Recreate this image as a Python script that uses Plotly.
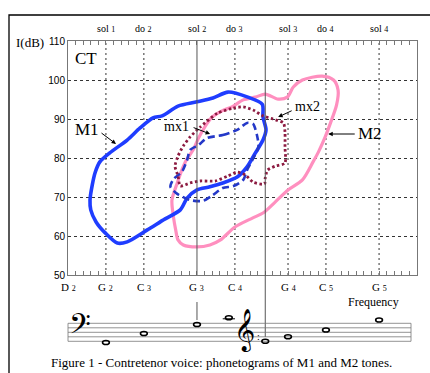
import plotly.graph_objects as go

# ---------------- data ----------------
NOTE_OFFS = {"C": 0, "D": 2, "E": 4, "F": 5, "G": 7, "A": 9, "B": 11}


def midi(n):
    return 12 * (int(n[1:]) + 1) + NOTE_OFFS[n[0]]


x_limits = ["D2", "C6"]
y_limits = [50, 110]
bottom_notes = ["D2", "G2", "C3", "G3", "C4", "G4", "C5", "G5"]
top_notes = ["G2", "C3", "G3", "C4", "G4", "C5", "G5"]
top_names = [("sol", "1"), ("do", "2"), ("sol", "2"), ("do", "3"), ("sol", "3"), ("do", "4"), ("sol", "4")]
dotted_grid_notes = ["G2", "C3", "C4", "G4", "C5", "G5"]
solid_line_notes = ["G3", "E4"]

# contours: x in semitones (MIDI number), y in dB
M1_x = [44.5, 42.9, 41.7, 41.0, 40.9, 41.2, 41.6, 42.2, 43.5, 45.8, 47.5, 49.2, 50.4, 52.5, 55.0, 57.1,
        59.1, 61.7, 63.6, 63.7, 64.1, 63.7, 62.7, 61.6, 60.3, 58.4, 56.7, 55.0, 53.7, 52.8, 50.8, 48.4, 45.8]
M1_y = [58.2, 60.8, 63.6, 66.7, 69.2, 73.1, 76.4, 79.0, 81.3, 84.6, 87.7, 90.3, 90.8, 93.3, 94.4, 95.4,
        96.9, 95.6, 93.8, 90.5, 87.2, 84.6, 81.3, 77.7, 75.1, 73.6, 72.6, 71.8, 69.7, 66.7, 64.4, 61.5, 58.5]

M2_x = [62.7, 64.0, 65.7, 66.9, 67.7, 68.9, 71.5, 73.0, 73.6, 73.4, 72.6, 71.9, 71.0, 70.3, 68.9, 67.0,
        65.3, 63.7, 62.3, 60.0, 58.1, 56.7, 55.0, 53.2, 52.5, 52.2, 51.9, 51.7, 52.4, 53.0, 53.6, 54.5,
        55.2, 56.1, 57.0, 58.3, 59.6, 61.1]
M2_y = [95.6, 96.4, 95.1, 95.6, 98.2, 100.0, 101.0, 100.0, 97.4, 93.6, 89.0, 85.4, 81.5, 79.0, 74.4, 71.8,
        68.7, 65.9, 64.6, 62.3, 59.0, 57.7, 57.2, 57.7, 59.0, 61.5, 64.9, 69.2, 73.6, 76.9, 79.5, 82.1,
        85.1, 88.2, 90.5, 92.1, 93.1, 94.9]

mx1_x = [56.3, 58.4, 60.3, 61.6, 62.4, 62.9, 63.1, 62.3, 61.6, 61.1, 59.8, 58.4, 57.1, 55.8, 54.1, 52.4,
         51.5, 51.9, 53.0, 53.7, 54.1, 55.2]
mx1_y = [85.1, 85.9, 87.2, 89.0, 88.7, 85.9, 82.8, 79.5, 76.9, 74.4, 72.8, 72.3, 70.5, 69.0, 69.2, 70.8,
         72.6, 74.6, 76.4, 79.5, 82.1, 83.3]

mx2_x = [57.7, 59.8, 61.1, 62.4, 63.7, 65.0, 66.4, 66.6, 66.6, 66.6, 65.3, 64.3, 64.0, 63.9, 62.4, 61.4,
         60.3, 59.1, 57.4, 55.4, 54.1, 52.8, 52.5, 52.1, 52.5, 53.2, 54.1, 55.4]
mx2_y = [91.5, 92.8, 93.1, 92.3, 90.8, 90.0, 89.0, 86.7, 82.8, 78.7, 77.9, 76.9, 74.9, 73.3, 73.8, 75.6,
         76.4, 75.4, 74.1, 74.1, 73.6, 72.8, 75.4, 77.9, 80.5, 83.1, 85.4, 87.9]

staff_notes = ["G2", "C3", "G3", "C4", "E4", "G4", "C5", "G5"]
staff_steps = [-0.5, 3.5, 7.5, 10.5, 0, 2, 5, 9.5]  # half-spaces above bottom staff line
staff_shift = [0, 0, 0, -0.8, 0, 0, 0, 0]

caption = "Figure 1 - Contretenor voice: phonetograms of M1 and M2 tones."

# ---------------- geometry helpers (pixels -> paper) ----------------
W, H = 430, 373
L, R, T, B = 68, 13, 41, 98
PW, PH = W - L - R, H - T - B


def py(p):  # pixel y -> paper y
    return (H - B - p) / PH


def px(p):  # pixel x -> paper x
    return (p - L) / PW


SERIF = "Liberation Serif, Times New Roman, serif"
SANS = "Liberation Sans, Arial, sans-serif"

fig = go.Figure()


def closed(xs, ys):
    return xs + xs[:1], ys + ys[:1]


x, y = closed(M2_x, M2_y)
fig.add_trace(go.Scatter(x=x, y=y, mode="lines", line=dict(color="#ff8fbf", width=3.2, shape="spline", smoothing=0.8),
                         hoverinfo="skip", showlegend=False))
x, y = closed(M1_x, M1_y)
fig.add_trace(go.Scatter(x=x, y=y, mode="lines", line=dict(color="#1f3dff", width=3.6, shape="spline", smoothing=0.8),
                         hoverinfo="skip", showlegend=False))
x, y = closed(mx1_x, mx1_y)
fig.add_trace(go.Scatter(x=x, y=y, mode="lines",
                         line=dict(color="#2438c8", width=2.6, dash="7px,4px", shape="spline", smoothing=0.7),
                         hoverinfo="skip", showlegend=False))
x, y = closed(mx2_x, mx2_y)
fig.add_trace(go.Scatter(x=x, y=y, mode="lines",
                         line=dict(color="#8c1a40", width=2.8, dash="2.5px,2.5px", shape="spline", smoothing=0.6),
                         hoverinfo="skip", showlegend=False))

shapes = []
# dotted vertical grid lines
for n in dotted_grid_notes:
    shapes.append(dict(type="line", xref="x", yref="paper", x0=midi(n), x1=midi(n), y0=0, y1=1,
                       line=dict(color="#333", width=1, dash="2px,3px"), layer="below"))
# solid vertical lines (G3, E4), extended down to the staff
g3, e4 = [midi(n) for n in solid_line_notes]
shapes.append(dict(type="line", xref="x", yref="paper", x0=g3, x1=g3, y0=0, y1=1, line=dict(color="#555", width=1)))
shapes.append(dict(type="line", xref="x", yref="paper", x0=g3, x1=g3, y0=py(302), y1=py(320),
                   line=dict(color="#555", width=1)))
shapes.append(dict(type="line", xref="x", yref="paper", x0=e4, x1=e4, y0=py(337), y1=1,
                   line=dict(color="#555", width=1)))

# staff
step = 2.25
bottom_line = 341.3
for i in range(5):
    yy = py(bottom_line - 2 * step * i)
    shapes.append(dict(type="line", xref="paper", yref="paper", x0=0, x1=px(411), y0=yy, y1=yy,
                       line=dict(color="#777", width=0.8)))
for xx in (0, px(411)):
    shapes.append(dict(type="line", xref="paper", yref="paper", x0=xx, x1=xx, y0=py(bottom_line),
                       y1=py(bottom_line - 8 * step), line=dict(color="#777", width=0.8)))
semi_px = PW / (midi(x_limits[1]) - midi(x_limits[0]))
for n, s, sh in zip(staff_notes, staff_steps, staff_shift):
    cx = midi(n) + sh
    cy = bottom_line - s * step
    hw = 3.4 / semi_px
    shapes.append(dict(type="circle", xref="x", yref="paper", x0=cx - hw, x1=cx + hw,
                       y0=py(cy + 2.0), y1=py(cy - 2.0), line=dict(color="black", width=1.6)))
    if s >= 10:
        shapes.append(dict(type="line", xref="x", yref="paper", x0=cx - 1.8 * hw, x1=cx + 1.8 * hw,
                           y0=py(bottom_line - 10 * step), y1=py(bottom_line - 10 * step),
                           line=dict(color="black", width=1)))

# outer frame
shapes.append(dict(type="rect", xref="paper", yref="paper", x0=px(9), x1=px(431), y0=py(400), y1=py(15),
                   line=dict(color="black", width=1.3)))

C = dict(xanchor="center", yanchor="middle", showarrow=False)
annotations = []
for n in bottom_notes:
    annotations.append(dict(x=midi(n), y=py(287), xref="x", yref="paper",
                            text=f"{n[0]} <span style='font-size:8px'>{n[1:]}</span>",
                            font=dict(family=SERIF, size=11, color="black"), **C))
for n, (nm, num) in zip(top_notes, top_names):
    annotations.append(dict(x=midi(n), y=py(29), xref="x", yref="paper",
                            text=f"{nm} <span style='font-size:8px'>{num}</span>",
                            font=dict(family=SERIF, size=10, color="black"), **C))

annotations += [
    dict(x=px(29.5), y=py(42), xref="paper", yref="paper", text="I(dB)",
         font=dict(family=SERIF, size=13, color="black"), **C),
    dict(x=px(373.5), y=py(302), xref="paper", yref="paper", text="Frequency",
         font=dict(family=SERIF, size=12, color="black"), **C),
    dict(x=px(221.5), y=py(362), xref="paper", yref="paper", text=caption,
         font=dict(family=SERIF, size=13, color="black"), **C),
    dict(x=40.4, y=105.4, xref="x", yref="y", text="CT",
         font=dict(family=SERIF, size=17, color="black"), **C),
    dict(x=40.5, y=87.4, xref="x", yref="y", text="M1",
         font=dict(family=SERIF, size=17, color="black"), **C),
    dict(x=52.25, y=88.2, xref="x", yref="y", text="mx1",
         font=dict(family=SERIF, size=14, color="black"), **C),
    dict(x=69.6, y=93.2, xref="x", yref="y", text="mx2",
         font=dict(family=SERIF, size=14, color="black"), **C),
    dict(x=77.8, y=86.4, xref="x", yref="y", text="M2",
         font=dict(family=SERIF, size=17, color="black"), **C),
    # clefs
    dict(x=px(80), y=py(327), xref="paper", yref="paper", text="\U0001D122",
         font=dict(family="DejaVu Sans", size=34, color="black"), **C),
    dict(x=px(244), y=py(330), xref="paper", yref="paper", text="\U0001D11E",
         font=dict(family="DejaVu Sans", size=36, color="black"), **C),
    dict(x=px(258), y=py(336), xref="paper", yref="paper", text=":",
         font=dict(family=SERIF, size=10, color="black"), **C),
]
# arrows
for hx, hy, ax, ay in [(44.33, 83.6, -16, -12), (56.73, 86.15, -18, -7), (65.7, 90.5, 15, -7), (72.3, 86.15, 28, 0)]:
    annotations.append(dict(x=hx, y=hy, xref="x", yref="y", ax=ax, ay=ay, text="", showarrow=True,
                            arrowhead=2, arrowsize=0.9, arrowwidth=1, arrowcolor="black", standoff=0))

fig.update_layout(
    width=W, height=H, margin=dict(l=L, r=R, t=T, b=B, autoexpand=False),
    paper_bgcolor="white", plot_bgcolor="white",
    shapes=shapes, annotations=annotations, showlegend=False,
    xaxis=dict(range=[midi(x_limits[0]), midi(x_limits[1])], tickvals=list(range(midi(x_limits[0]), midi(x_limits[1]) + 1)),
               showticklabels=False, ticks="inside", ticklen=4, tickcolor="#777", tickwidth=1,
               showgrid=False, zeroline=False, showline=True, linecolor="#777", linewidth=1, mirror="allticks"),
    yaxis=dict(range=y_limits, tickvals=list(range(y_limits[0], y_limits[1] + 1, 10)), showgrid=True,
               gridcolor="#333", gridwidth=1, griddash="3px,3px", zeroline=False, showline=True,
               linecolor="#777", linewidth=1, mirror=True, ticks="",
               tickfont=dict(family=SANS, size=10, color="black")),
)

fig.write_html("out.html", config={"displayModeBar": False},
               post_script="document.body.style.margin='0';document.body.style.padding='0';")
